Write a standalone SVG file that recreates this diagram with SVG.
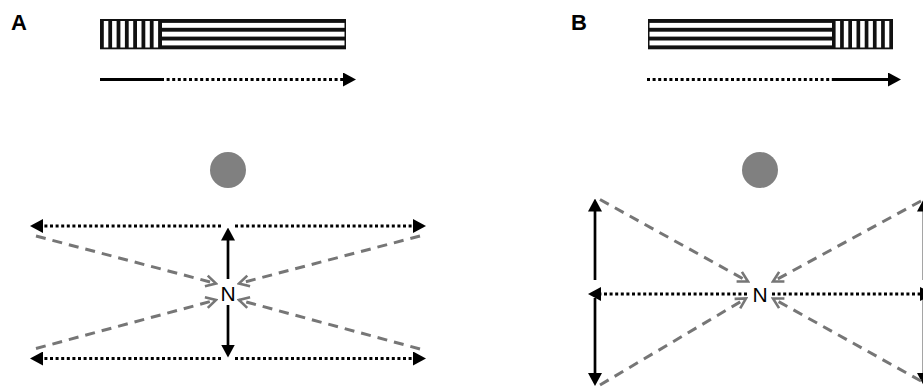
<svg xmlns="http://www.w3.org/2000/svg" width="923" height="387" viewBox="0 0 923 387">
<style>
.lbl{font-family:"Liberation Sans",Arial,sans-serif;font-weight:bold;font-size:22px;fill:#000}
.n{font-family:"Liberation Sans",Arial,sans-serif;font-size:21px;fill:#000;text-anchor:middle}
.solid{stroke:#000;stroke-width:2.7;fill:none}
.dot{stroke:#000;stroke-width:3;stroke-dasharray:3 2.6;fill:none}
.dash{stroke:#767676;stroke-width:3;stroke-dasharray:10 7;fill:none}
.ball{fill:#808080}
</style>
<defs>
<marker id="tri" markerUnits="userSpaceOnUse" viewBox="0 0 13 14" refX="1" refY="7" markerWidth="13" markerHeight="14" orient="auto">
<path d="M0,0 L13,7 L0,14 z" fill="#000"/>
</marker>
<marker id="chev" markerUnits="userSpaceOnUse" viewBox="-12 -7 14 14" refX="0" refY="0" markerWidth="14" markerHeight="14" orient="auto">
<path d="M-10,-5.5 L0,0 L-10,5.5" fill="none" stroke="#767676" stroke-width="2.6"/>
</marker>
</defs>

<text class="lbl" x="11" y="29.5">A</text>
<text class="lbl" x="571" y="29.5">B</text>

<g id="barA">
<rect x="100" y="19" width="246" height="30.3" fill="#111"/>
<g fill="#fff">
<rect x="103.8" y="21" width="4.5" height="26.5"/>
<rect x="112.1" y="21" width="4.5" height="26.5"/>
<rect x="120.4" y="21" width="4.5" height="26.5"/>
<rect x="128.7" y="21" width="4.5" height="26.5"/>
<rect x="137" y="21" width="4.5" height="26.5"/>
<rect x="145.3" y="21" width="4.5" height="26.5"/>
<rect x="153.6" y="21" width="4.5" height="26.5"/>
<rect x="162" y="22.9" width="182.5" height="4.9"/>
<rect x="162" y="31.7" width="182.5" height="4.9"/>
<rect x="162" y="40.5" width="182.5" height="4.9"/>
</g>
</g>

<g id="barB">
<rect x="648" y="19" width="245" height="30.3" fill="#111"/>
<g fill="#fff">
<rect x="649.5" y="22.9" width="182.5" height="4.9"/>
<rect x="649.5" y="31.7" width="182.5" height="4.9"/>
<rect x="649.5" y="40.5" width="182.5" height="4.9"/>
<rect x="835.6" y="21" width="4.5" height="26.5"/>
<rect x="843.8" y="21" width="4.5" height="26.5"/>
<rect x="852" y="21" width="4.5" height="26.5"/>
<rect x="860.2" y="21" width="4.5" height="26.5"/>
<rect x="868.4" y="21" width="4.5" height="26.5"/>
<rect x="876.6" y="21" width="4.5" height="26.5"/>
<rect x="884.8" y="21" width="4.5" height="26.5"/>
</g>
</g>

<g id="ballA"><circle class="ball" cx="228" cy="170" r="18"/></g>
<g id="ballB"><circle class="ball" cx="760" cy="170" r="18"/></g>

<g id="nA"><text class="n" x="228" y="301">N</text></g>
<g id="nB"><text class="n" x="760" y="302">N</text></g>

<g id="connectors">
<line class="solid" x1="100" y1="79.5" x2="161" y2="79.5" style="stroke-width:3"/>
<line class="dot" x1="161" y1="79.5" x2="344" y2="79.5" marker-end="url(#tri)"/>
<line class="dot" x1="647" y1="79.5" x2="832" y2="79.5"/>
<line class="solid" x1="832" y1="79.5" x2="889" y2="79.5" style="stroke-width:3" marker-end="url(#tri)"/>

<line class="dot" x1="221" y1="226" x2="42" y2="226" marker-end="url(#tri)"/>
<line class="dot" x1="235" y1="226" x2="414" y2="226" marker-end="url(#tri)"/>
<line class="dot" x1="221" y1="358.5" x2="42" y2="358.5" marker-end="url(#tri)"/>
<line class="dot" x1="235" y1="358.5" x2="414" y2="358.5" marker-end="url(#tri)"/>
<line class="solid" x1="228" y1="279" x2="228" y2="239.5" marker-end="url(#tri)"/>
<line class="solid" x1="228" y1="305" x2="228" y2="345.5" marker-end="url(#tri)"/>
<line class="dash" x1="36" y1="236" x2="216" y2="283.5" marker-end="url(#chev)"/>
<line class="dash" x1="420" y1="236" x2="239" y2="283.5" marker-end="url(#chev)"/>
<line class="dash" x1="36" y1="348.5" x2="216" y2="300" marker-end="url(#chev)"/>
<line class="dash" x1="420" y1="349" x2="239" y2="300" marker-end="url(#chev)"/>

<line class="solid" x1="595" y1="280" x2="595" y2="210.5" marker-end="url(#tri)"/>
<line class="solid" x1="595" y1="298" x2="595" y2="374" marker-end="url(#tri)"/>
<line class="solid" x1="924" y1="280" x2="924" y2="210.5" marker-end="url(#tri)"/>
<line class="solid" x1="924" y1="298" x2="924" y2="374" marker-end="url(#tri)"/>
<line class="dot" x1="747" y1="294" x2="600" y2="294" marker-end="url(#tri)"/>
<line class="dot" x1="772" y1="294" x2="921" y2="294" marker-end="url(#tri)"/>
<line class="dash" x1="600" y1="199.5" x2="748" y2="281.5" marker-end="url(#chev)"/>
<line class="dash" x1="921" y1="201" x2="773" y2="281.5" marker-end="url(#chev)"/>
<line class="dash" x1="600" y1="385" x2="746" y2="298.5" marker-end="url(#chev)"/>
<line class="dash" x1="921" y1="381" x2="773" y2="298.5" marker-end="url(#chev)"/>
</g>
</svg>
